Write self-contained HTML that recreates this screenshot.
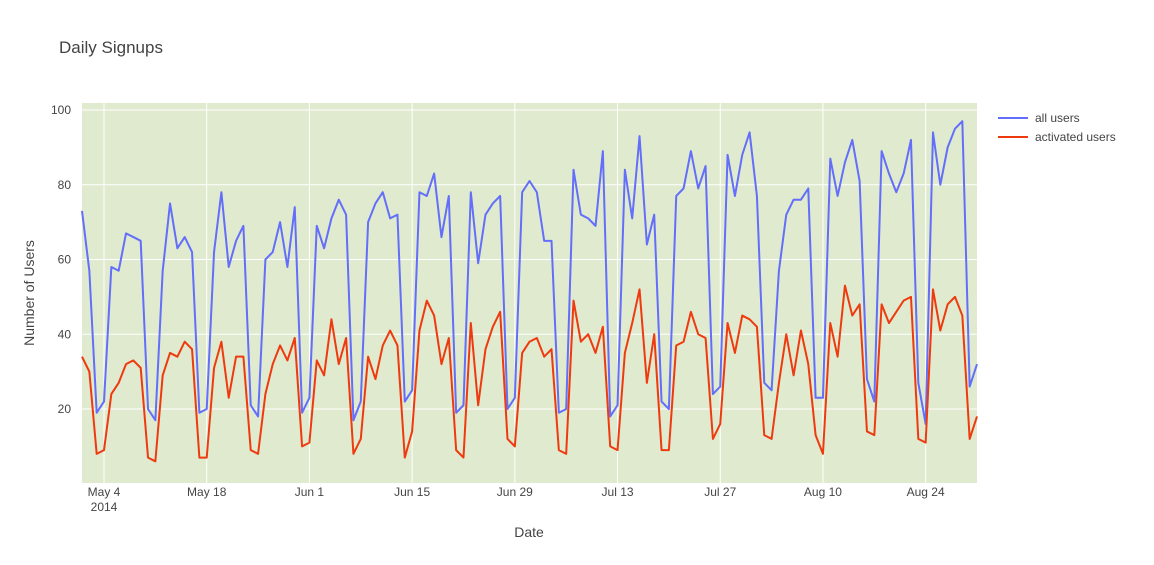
<!DOCTYPE html>
<html><head><meta charset="utf-8"><style>
body{margin:0;background:#fff;font-family:"Liberation Sans",sans-serif;}
svg text{font-family:"Liberation Sans",sans-serif;fill:#444;}
</style></head><body>
<svg id="chart" width="1154" height="560">
<text x="59" y="53" font-size="17">Daily Signups</text>
<rect x="82" y="103" width="895" height="380" fill="#dfeacf"/>
<g id="grid"></g><g id="lines"></g><g id="ticks"></g>
<text x="529" y="537" font-size="14" text-anchor="middle">Date</text>
<text transform="translate(34,293) rotate(-90)" font-size="14" text-anchor="middle">Number of Users</text>
<g>
<g><line x1="998" y1="118" x2="1028" y2="118" stroke="#636efa" stroke-width="2"/><text x="1035" y="122" font-size="12">all users</text></g>
<g><line x1="998" y1="137" x2="1028" y2="137" stroke="#ef3a0f" stroke-width="2"/><text x="1035" y="141" font-size="12">activated users</text></g>
</g>
</svg>
<script>
const startDate = "2014-05-01";
const allUsers = [73,57,19,22,58,57,67,66,65,20,17,57,75,63,66,62,19,20,62,78,58,65,69,21,18,60,62,70,58,74,19,
23,69,63,71,76,72,17,22,70,75,78,71,72,22,25,78,77,83,66,77,19,21,78,59,72,75,77,20,23,78,
81,78,65,65,19,20,84,72,71,69,89,18,21,84,71,93,64,72,22,20,77,79,89,79,85,24,26,88,77,88,94,
77,27,25,57,72,76,76,79,23,23,87,77,86,92,81,28,22,89,83,78,83,92,27,16,94,80,90,95,97,26,32];
const activatedUsers = [34,30,8,9,24,27,32,33,31,7,6,29,35,34,38,36,7,7,31,38,23,34,34,9,8,24,32,37,33,39,10,
11,33,29,44,32,39,8,12,34,28,37,41,37,7,14,41,49,45,32,39,9,7,43,21,36,42,46,12,10,35,
38,39,34,36,9,8,49,38,40,35,42,10,9,35,43,52,27,40,9,9,37,38,46,40,39,12,16,43,35,45,44,
42,13,12,27,40,29,41,32,13,8,43,34,53,45,48,14,13,48,43,46,49,50,12,11,52,41,48,50,45,12,18];
const yTicks = [20,40,60,80,100];
const xTickLabels = ["May 4","May 18","Jun 1","Jun 15","Jun 29","Jul 13","Jul 27","Aug 10","Aug 24"];
const xTickDays = [3,17,31,45,59,73,87,101,115];

const NS="http://www.w3.org/2000/svg";
const X0=82,X1=977,Y0=103,Y1=483;
const n=allUsers.length;
const xs=d=>X0+d*(X1-X0)/(n-1);
const ys=v=>483.75-v*3.7375;
function mk(tag,attrs,parent){const e=document.createElementNS(NS,tag);for(const k in attrs)e.setAttribute(k,attrs[k]);parent.appendChild(e);return e;}
const grid=document.getElementById('grid'),ticks=document.getElementById('ticks'),lines=document.getElementById('lines');
yTicks.forEach(v=>{
  const l=mk('line',{x1:X0,x2:X1,y1:ys(v),y2:ys(v),stroke:'#fff','stroke-width':1},grid);
  
  
  const t=mk('text',{x:71,y:ys(v)+4,'font-size':12,'text-anchor':'end'},ticks);
  t.textContent=v;
  
  
});
xTickDays.forEach((d,i)=>{
  const l=mk('line',{x1:xs(d),x2:xs(d),y1:Y0,y2:Y1,stroke:'#fff','stroke-width':1},grid);
  
  
  const t=mk('text',{x:xs(d),y:496,'font-size':12,'text-anchor':'middle'},ticks);
  t.textContent=xTickLabels[i];
  
  
});
const yr=mk('text',{x:xs(xTickDays[0]),y:511,'font-size':12,'text-anchor':'middle'},ticks);
yr.textContent="2014";


function series(arr,color,name){
  const p=mk('polyline',{points:arr.map((v,i)=>xs(i)+','+ys(v)).join(' '),fill:'none',stroke:color,'stroke-width':2,'stroke-linejoin':'round'},lines);
  
  
}
series(allUsers,'#636efa','all-users-line');
series(activatedUsers,'#ef3a0f','activated-users-line');
</script>
</body></html>
